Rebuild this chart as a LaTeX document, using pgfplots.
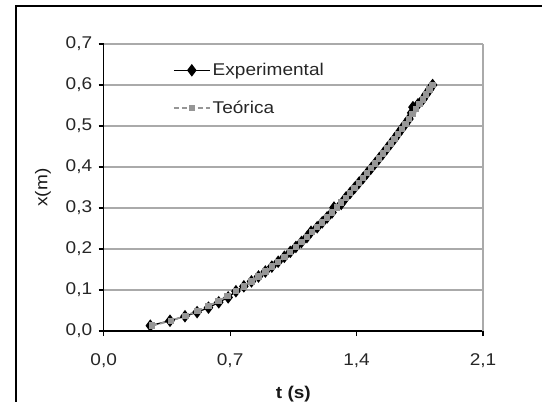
\documentclass[border=0pt]{standalone}
\usepackage{fontspec}
\setmainfont{Liberation Sans}[FakeStretch=1.12]
\usepackage{pgfplots}
\pgfplotsset{compat=1.18}
\definecolor{teogray}{RGB}{150,150,150}
\definecolor{gridgray}{RGB}{170,170,170}

\pgfplotstableread{
t x
0.258 0.013
0.367 0.025
0.450 0.036
0.517 0.046
0.580 0.057
0.637 0.070
0.689 0.082
0.732 0.097
0.776 0.109
0.818 0.121
0.857 0.133
0.895 0.145
0.931 0.157
0.966 0.169
1.000 0.181
1.033 0.193
1.064 0.205
1.095 0.217
1.125 0.229
1.148 0.242
1.182 0.253
1.210 0.265
1.237 0.277
1.264 0.289
1.275 0.301
1.315 0.310
1.340 0.325
1.365 0.337
1.389 0.349
1.412 0.361
1.436 0.373
1.458 0.385
1.481 0.397
1.503 0.409
1.525 0.421
1.547 0.433
1.568 0.445
1.589 0.457
1.610 0.469
1.630 0.481
1.650 0.493
1.670 0.505
1.690 0.517
1.705 0.532
1.712 0.546
1.740 0.553
1.767 0.565
1.785 0.577
1.804 0.589
1.821 0.600
}\expdata

\pgfplotstableread{
t x
0.268 0.013
0.372 0.025
0.452 0.037
0.520 0.049
0.581 0.061
0.635 0.073
0.685 0.085
0.732 0.097
0.776 0.109
0.818 0.121
0.857 0.133
0.895 0.145
0.931 0.157
0.966 0.169
1.000 0.181
1.033 0.193
1.064 0.205
1.095 0.217
1.125 0.229
1.154 0.241
1.182 0.253
1.210 0.265
1.237 0.277
1.264 0.289
1.290 0.301
1.315 0.313
1.340 0.325
1.365 0.337
1.389 0.349
1.412 0.361
1.436 0.373
1.458 0.385
1.481 0.397
1.503 0.409
1.525 0.421
1.547 0.433
1.568 0.445
1.589 0.457
1.610 0.469
1.630 0.481
1.650 0.493
1.670 0.505
1.690 0.517
1.710 0.529
1.729 0.541
1.748 0.553
1.767 0.565
1.785 0.577
1.804 0.589
1.821 0.600
}\teodata

\begin{document}
\begin{tikzpicture}
\useasboundingbox (0bp,0bp) rectangle (542bp,402bp);
\draw[line width=1.5bp] (16bp,0bp) -- (16bp,396bp) -- (542bp,396bp);
\begin{axis}[
    at={(103.7bp,71bp)}, anchor=south west,
    width=379.3bp, height=287bp, scale only axis,
    xmin=0, xmax=2.1, ymin=0, ymax=0.7,
    xtick={0,0.7,1.4,2.1},
    ytick={0,0.1,0.2,0.3,0.4,0.5,0.6,0.7},
    axis lines=left,
    axis line style={-, black, line width=1.1bp},
    tick style={black, line width=1.1bp},
    tick align=outside,
    major tick length=5bp,
    ymajorgrids=true,
    grid style={gridgray, line width=1.3bp},
    extra x ticks={2.1},
    extra x tick labels={},
    extra x tick style={grid=major, major tick length=0pt},
    /pgf/number format/.cd, use comma, fixed, fixed zerofill, precision=1, assume math mode=true,
    /pgfplots/.cd,
    tick label style={font=\fontsize{17bp}{20bp}\selectfont, text=black!85},
    xticklabel style={yshift=-14bp},
    yticklabel style={xshift=-3bp},
    xlabel={\textbf{t (s)}},
    ylabel={x(m)},
    label style={font=\fontsize{17bp}{20bp}\selectfont, text=black!90},
    xlabel style={at={(axis description cs:0.5,-0.22)}, anchor=center},
    ylabel style={at={(axis description cs:-0.16,0.5)}, anchor=center},
    legend style={at={(axis description cs:0.182,0.94)}, anchor=north west,
        draw=none, fill=none, row sep=20bp, inner sep=0pt,
        font=\fontsize{17bp}{20bp}\selectfont, text=black!85,
        /tikz/every even column/.append style={column sep=2bp}},
    legend cell align=left,
    legend image code/.code={
        \draw[mark repeat=2, mark phase=2, #1]
        plot coordinates {(0bp,0bp) (18bp,0bp) (36bp,0bp)};},
]
\addplot[black, line width=1.4bp, mark=diamond*, mark size=5.2bp,
    mark options={solid, fill=black}] table[x=t, y=x] {\expdata};
\addplot[teogray, line width=1.8bp, dash pattern=on 5bp off 3bp, mark=square*, mark size=2.3bp,
    mark options={solid, fill=teogray, draw=teogray}] table[x=t, y=x] {\teodata};
\legend{Experimental, Teórica}
\end{axis}
\end{tikzpicture}
\end{document}
